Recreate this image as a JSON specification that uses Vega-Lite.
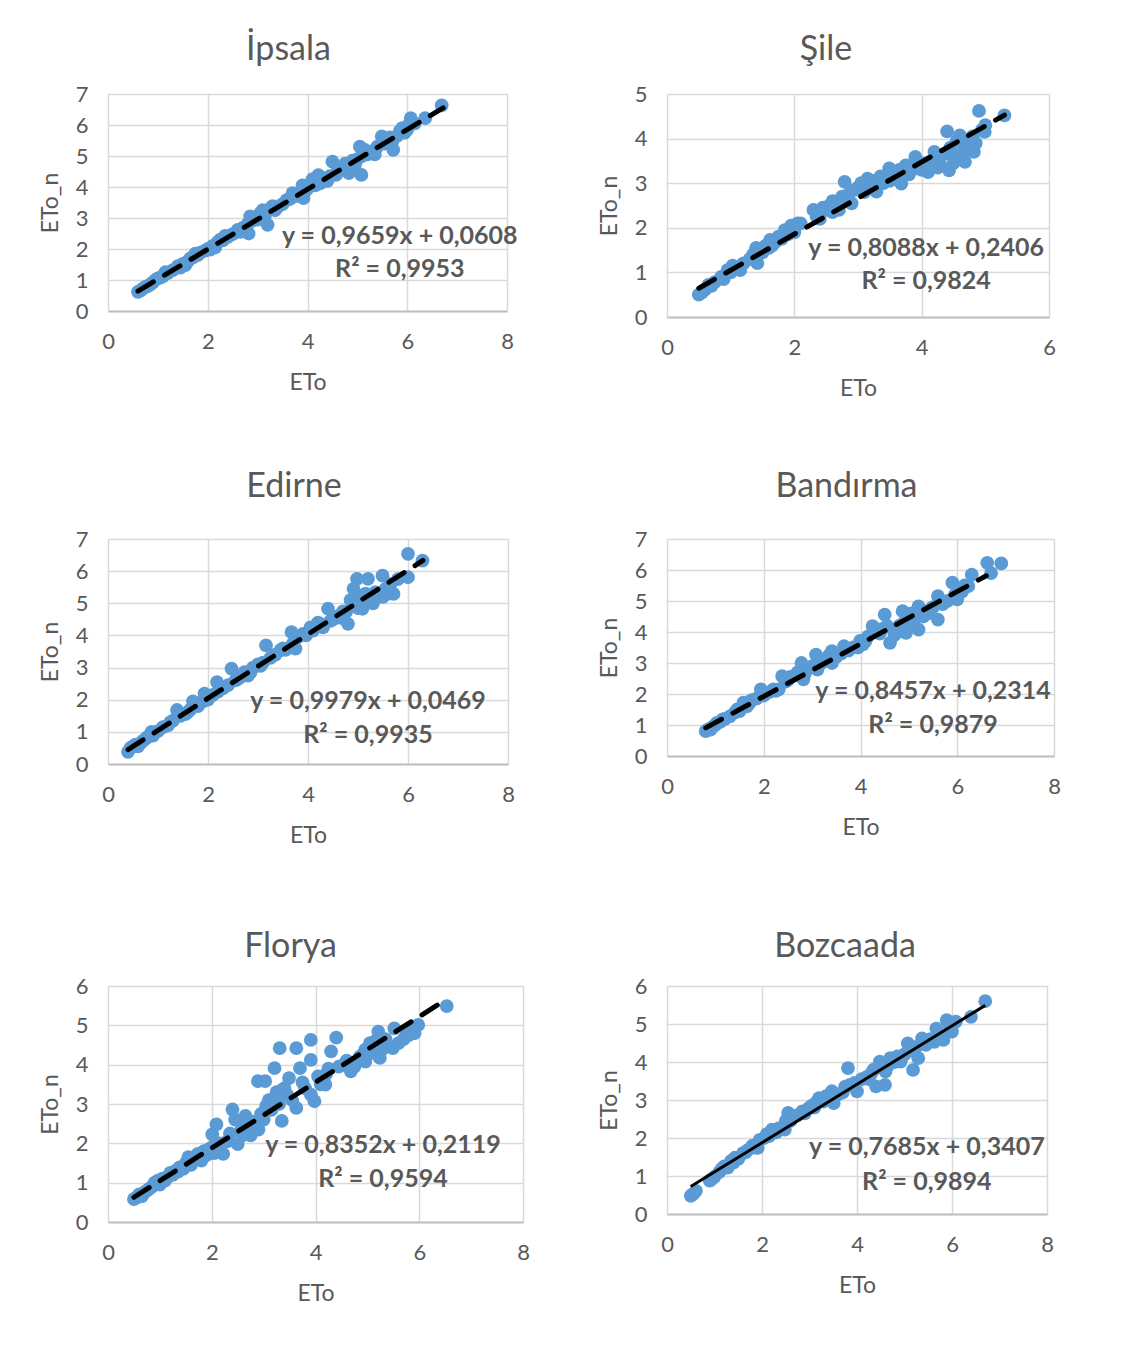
{
  "$schema": "https://vega.github.io/schema/vega-lite/v6.json",
  "background": "white",
  "padding": {"left": 39, "top": 33, "right": 5, "bottom": 5},
  "config": {
    "font": "Lato",
    "view": {"stroke": null},
    "axis": {"grid": true, "gridColor": "#D9D9D9", "gridWidth": 1.5, "ticks": false, "domain": false, "labelColor": "#595959", "labelFontSize": 22, "titleColor": "#595959", "titleFontSize": 23, "titleFontWeight": "normal", "labelFlush": false, "labelOverlap": false, "format": "d"},
    "axisX": {"domain": true, "domainColor": "#BFBFBF", "domainWidth": 2, "labelPadding": 20, "titlePadding": 19},
    "axisY": {"labelPadding": 20, "titlePadding": 13},
    "title": {"fontSize": 34, "fontWeight": "normal", "color": "#595959", "anchor": "middle"},
    "text": {"fontSize": 25, "fontWeight": "bold", "color": "#595959", "align": "center", "baseline": "middle"}
  },
  "datasets": {
    "ipsala": [
      {"ETo":0.60,"ETo_n":0.62},{"ETo":0.65,"ETo_n":0.66},{"ETo":0.70,"ETo_n":0.72},{"ETo":0.75,"ETo_n":0.78},{"ETo":0.80,"ETo_n":0.80},{"ETo":0.85,"ETo_n":0.86},{"ETo":0.90,"ETo_n":0.92},{"ETo":0.95,"ETo_n":1.00},{"ETo":1.00,"ETo_n":1.05},{"ETo":1.05,"ETo_n":1.08},{"ETo":1.10,"ETo_n":1.12},{"ETo":1.20,"ETo_n":1.22},{"ETo":1.30,"ETo_n":1.32},{"ETo":1.40,"ETo_n":1.45},{"ETo":1.45,"ETo_n":1.40},{"ETo":1.50,"ETo_n":1.52},{"ETo":1.60,"ETo_n":1.60},{"ETo":1.65,"ETo_n":1.70},{"ETo":1.70,"ETo_n":1.72},{"ETo":1.80,"ETo_n":1.80},{"ETo":1.85,"ETo_n":1.88},{"ETo":1.95,"ETo_n":1.95},{"ETo":2.00,"ETo_n":2.00},{"ETo":2.05,"ETo_n":1.98},{"ETo":2.10,"ETo_n":2.10},{"ETo":2.20,"ETo_n":2.22},{"ETo":2.25,"ETo_n":2.30},{"ETo":2.30,"ETo_n":2.28},{"ETo":2.40,"ETo_n":2.38},{"ETo":2.50,"ETo_n":2.48},{"ETo":2.60,"ETo_n":2.62},{"ETo":2.70,"ETo_n":2.68},{"ETo":2.80,"ETo_n":2.80},{"ETo":2.82,"ETo_n":2.50},{"ETo":2.85,"ETo_n":3.05},{"ETo":2.90,"ETo_n":2.92},{"ETo":2.95,"ETo_n":3.00},{"ETo":3.00,"ETo_n":2.95},{"ETo":3.10,"ETo_n":3.25},{"ETo":3.15,"ETo_n":3.10},{"ETo":3.20,"ETo_n":2.78},{"ETo":3.25,"ETo_n":3.30},{"ETo":3.30,"ETo_n":3.38},{"ETo":3.40,"ETo_n":3.35},{"ETo":3.50,"ETo_n":3.45},{"ETo":3.58,"ETo_n":3.58},{"ETo":3.65,"ETo_n":3.62},{"ETo":3.75,"ETo_n":3.70},{"ETo":3.85,"ETo_n":3.75},{"ETo":3.92,"ETo_n":3.64},{"ETo":3.90,"ETo_n":4.05},{"ETo":4.00,"ETo_n":3.95},{"ETo":4.05,"ETo_n":4.10},{"ETo":4.15,"ETo_n":4.05},{"ETo":4.22,"ETo_n":4.38},{"ETo":4.25,"ETo_n":4.12},{"ETo":4.35,"ETo_n":4.25},{"ETo":4.45,"ETo_n":4.35},{"ETo":4.50,"ETo_n":4.82},{"ETo":4.57,"ETo_n":4.39},{"ETo":4.60,"ETo_n":4.50},{"ETo":4.70,"ETo_n":4.55},{"ETo":4.79,"ETo_n":4.71},{"ETo":4.83,"ETo_n":4.45},{"ETo":4.90,"ETo_n":4.85},{"ETo":5.00,"ETo_n":4.90},{"ETo":5.05,"ETo_n":5.30},{"ETo":5.08,"ETo_n":4.39},{"ETo":5.10,"ETo_n":5.00},{"ETo":5.20,"ETo_n":5.05},{"ETo":5.30,"ETo_n":5.15},{"ETo":5.40,"ETo_n":5.30},{"ETo":5.49,"ETo_n":5.63},{"ETo":5.55,"ETo_n":5.40},{"ETo":5.60,"ETo_n":5.50},{"ETo":5.70,"ETo_n":5.47},{"ETo":5.72,"ETo_n":5.20},{"ETo":5.80,"ETo_n":5.65},{"ETo":5.85,"ETo_n":5.80},{"ETo":5.90,"ETo_n":5.90},{"ETo":5.95,"ETo_n":5.75},{"ETo":6.05,"ETo_n":6.05},{"ETo":6.07,"ETo_n":6.22},{"ETo":6.15,"ETo_n":6.05},{"ETo":6.36,"ETo_n":6.22},{"ETo":6.69,"ETo_n":6.63},
      {"ETo":1.15,"ETo_n":1.25},{"ETo":1.55,"ETo_n":1.48},{"ETo":1.75,"ETo_n":1.85},{"ETo":2.15,"ETo_n":2.05},{"ETo":2.35,"ETo_n":2.42},{"ETo":2.65,"ETo_n":2.55},{"ETo":3.05,"ETo_n":3.15},{"ETo":3.35,"ETo_n":3.25},{"ETo":3.70,"ETo_n":3.80},{"ETo":3.95,"ETo_n":3.85},{"ETo":4.10,"ETo_n":4.25},{"ETo":4.40,"ETo_n":4.20},{"ETo":4.75,"ETo_n":4.75},{"ETo":4.95,"ETo_n":4.70},{"ETo":5.15,"ETo_n":5.20},{"ETo":5.35,"ETo_n":5.05},{"ETo":5.65,"ETo_n":5.60},{"ETo":6.00,"ETo_n":5.85}
    ],
    "ipsala_fit": [{"ETo":0.60,"ETo_n":0.64},{"ETo":6.72,"ETo_n":6.55}],
    "ipsala_label": [{"eq":"y = 0,9659x + 0,0608","r2":"R² = 0,9953"}],
    "sile": [
      {"ETo":0.50,"ETo_n":0.50},{"ETo":0.55,"ETo_n":0.55},{"ETo":0.60,"ETo_n":0.62},{"ETo":0.70,"ETo_n":0.70},{"ETo":0.75,"ETo_n":0.78},{"ETo":0.85,"ETo_n":0.90},{"ETo":0.89,"ETo_n":0.85},{"ETo":0.95,"ETo_n":1.05},{"ETo":1.00,"ETo_n":1.00},{"ETo":1.03,"ETo_n":1.15},{"ETo":1.10,"ETo_n":1.10},{"ETo":1.20,"ETo_n":1.20},{"ETo":1.30,"ETo_n":1.30},{"ETo":1.35,"ETo_n":1.40},{"ETo":1.40,"ETo_n":1.55},{"ETo":1.42,"ETo_n":1.21},{"ETo":1.50,"ETo_n":1.45},{"ETo":1.55,"ETo_n":1.60},{"ETo":1.62,"ETo_n":1.73},{"ETo":1.65,"ETo_n":1.60},{"ETo":1.75,"ETo_n":1.80},{"ETo":1.80,"ETo_n":1.75},{"ETo":1.85,"ETo_n":1.95},{"ETo":1.90,"ETo_n":1.85},{"ETo":1.95,"ETo_n":2.05},{"ETo":2.00,"ETo_n":1.90},{"ETo":2.05,"ETo_n":2.10},{"ETo":2.10,"ETo_n":2.10},{"ETo":2.30,"ETo_n":2.40},{"ETo":2.35,"ETo_n":2.25},{"ETo":2.40,"ETo_n":2.20},{"ETo":2.45,"ETo_n":2.45},{"ETo":2.50,"ETo_n":2.40},{"ETo":2.55,"ETo_n":2.50},{"ETo":2.60,"ETo_n":2.60},{"ETo":2.65,"ETo_n":2.45},{"ETo":2.70,"ETo_n":2.40},{"ETo":2.75,"ETo_n":2.70},{"ETo":2.79,"ETo_n":3.03},{"ETo":2.85,"ETo_n":2.75},{"ETo":2.90,"ETo_n":2.55},{"ETo":2.95,"ETo_n":2.85},{"ETo":3.00,"ETo_n":2.90},{"ETo":3.05,"ETo_n":3.00},{"ETo":3.15,"ETo_n":3.10},{"ETo":3.20,"ETo_n":2.95},{"ETo":3.25,"ETo_n":3.05},{"ETo":3.29,"ETo_n":2.81},{"ETo":3.40,"ETo_n":3.00},{"ETo":3.49,"ETo_n":3.33},{"ETo":3.55,"ETo_n":3.20},{"ETo":3.60,"ETo_n":3.10},{"ETo":3.65,"ETo_n":3.30},{"ETo":3.68,"ETo_n":2.99},{"ETo":3.75,"ETo_n":3.40},{"ETo":3.85,"ETo_n":3.30},{"ETo":3.90,"ETo_n":3.59},{"ETo":3.95,"ETo_n":3.45},{"ETo":4.00,"ETo_n":3.30},{"ETo":4.10,"ETo_n":3.25},{"ETo":4.15,"ETo_n":3.50},{"ETo":4.20,"ETo_n":3.70},{"ETo":4.25,"ETo_n":3.55},{"ETo":4.30,"ETo_n":3.40},{"ETo":4.35,"ETo_n":3.65},{"ETo":4.40,"ETo_n":4.16},{"ETo":4.43,"ETo_n":3.29},{"ETo":4.45,"ETo_n":3.80},{"ETo":4.50,"ETo_n":3.60},{"ETo":4.55,"ETo_n":3.95},{"ETo":4.60,"ETo_n":4.07},{"ETo":4.65,"ETo_n":3.70},{"ETo":4.68,"ETo_n":3.48},{"ETo":4.75,"ETo_n":3.90},{"ETo":4.80,"ETo_n":4.05},{"ETo":4.82,"ETo_n":3.70},{"ETo":4.90,"ETo_n":4.62},{"ETo":4.95,"ETo_n":4.20},{"ETo":4.99,"ETo_n":4.15},{"ETo":5.30,"ETo_n":4.52},
      {"ETo":0.65,"ETo_n":0.72},{"ETo":1.15,"ETo_n":1.05},{"ETo":1.60,"ETo_n":1.55},{"ETo":1.70,"ETo_n":1.68},{"ETo":2.40,"ETo_n":2.35},{"ETo":2.60,"ETo_n":2.35},{"ETo":2.85,"ETo_n":2.60},{"ETo":3.10,"ETo_n":2.80},{"ETo":3.35,"ETo_n":3.15},{"ETo":3.50,"ETo_n":3.05},{"ETo":3.80,"ETo_n":3.20},{"ETo":4.05,"ETo_n":3.45},{"ETo":4.25,"ETo_n":3.35},{"ETo":4.50,"ETo_n":3.45},{"ETo":4.70,"ETo_n":3.80},{"ETo":4.85,"ETo_n":3.90},{"ETo":5.00,"ETo_n":4.30}
    ],
    "sile_fit": [{"ETo":0.50,"ETo_n":0.645},{"ETo":5.30,"ETo_n":4.527}],
    "sile_label": [{"eq":"y = 0,8088x + 0,2406","r2":"R² = 0,9824"}],
    "edirne": [
      {"ETo":0.40,"ETo_n":0.38},{"ETo":0.45,"ETo_n":0.50},{"ETo":0.50,"ETo_n":0.55},{"ETo":0.55,"ETo_n":0.60},{"ETo":0.60,"ETo_n":0.55},{"ETo":0.65,"ETo_n":0.65},{"ETo":0.70,"ETo_n":0.72},{"ETo":0.80,"ETo_n":0.85},{"ETo":0.87,"ETo_n":1.00},{"ETo":0.90,"ETo_n":0.88},{"ETo":1.00,"ETo_n":1.02},{"ETo":1.10,"ETo_n":1.15},{"ETo":1.20,"ETo_n":1.20},{"ETo":1.30,"ETo_n":1.35},{"ETo":1.38,"ETo_n":1.68},{"ETo":1.45,"ETo_n":1.50},{"ETo":1.55,"ETo_n":1.55},{"ETo":1.65,"ETo_n":1.70},{"ETo":1.70,"ETo_n":1.95},{"ETo":1.80,"ETo_n":1.80},{"ETo":1.90,"ETo_n":1.95},{"ETo":1.93,"ETo_n":2.19},{"ETo":2.00,"ETo_n":2.00},{"ETo":2.10,"ETo_n":2.15},{"ETo":2.18,"ETo_n":2.55},{"ETo":2.30,"ETo_n":2.35},{"ETo":2.40,"ETo_n":2.45},{"ETo":2.47,"ETo_n":2.97},{"ETo":2.55,"ETo_n":2.60},{"ETo":2.65,"ETo_n":2.70},{"ETo":2.73,"ETo_n":2.86},{"ETo":2.80,"ETo_n":2.75},{"ETo":2.90,"ETo_n":3.00},{"ETo":3.00,"ETo_n":3.10},{"ETo":3.10,"ETo_n":3.15},{"ETo":3.16,"ETo_n":3.69},{"ETo":3.25,"ETo_n":3.30},{"ETo":3.35,"ETo_n":3.40},{"ETo":3.45,"ETo_n":3.54},{"ETo":3.55,"ETo_n":3.55},{"ETo":3.67,"ETo_n":4.10},{"ETo":3.75,"ETo_n":3.59},{"ETo":3.80,"ETo_n":3.95},{"ETo":3.90,"ETo_n":4.05},{"ETo":3.96,"ETo_n":4.00},{"ETo":4.05,"ETo_n":4.25},{"ETo":4.15,"ETo_n":4.30},{"ETo":4.25,"ETo_n":4.35},{"ETo":4.30,"ETo_n":4.25},{"ETo":4.40,"ETo_n":4.83},{"ETo":4.50,"ETo_n":4.50},{"ETo":4.60,"ETo_n":4.60},{"ETo":4.70,"ETo_n":4.75},{"ETo":4.76,"ETo_n":4.73},{"ETo":4.80,"ETo_n":4.36},{"ETo":4.85,"ETo_n":5.10},{"ETo":4.91,"ETo_n":5.45},{"ETo":4.95,"ETo_n":5.20},{"ETo":4.98,"ETo_n":5.76},{"ETo":5.00,"ETo_n":4.85},{"ETo":5.05,"ETo_n":5.00},{"ETo":5.09,"ETo_n":4.83},{"ETo":5.15,"ETo_n":5.30},{"ETo":5.20,"ETo_n":5.76},{"ETo":5.25,"ETo_n":5.10},{"ETo":5.30,"ETo_n":5.00},{"ETo":5.40,"ETo_n":5.20},{"ETo":5.49,"ETo_n":5.86},{"ETo":5.55,"ETo_n":5.45},{"ETo":5.60,"ETo_n":5.30},{"ETo":5.65,"ETo_n":5.60},{"ETo":5.71,"ETo_n":5.29},{"ETo":5.80,"ETo_n":5.75},{"ETo":6.00,"ETo_n":5.81},{"ETo":6.00,"ETo_n":6.54},{"ETo":6.29,"ETo_n":6.33},
      {"ETo":0.75,"ETo_n":0.78},{"ETo":1.25,"ETo_n":1.30},{"ETo":1.60,"ETo_n":1.62},{"ETo":2.20,"ETo_n":2.25},{"ETo":2.60,"ETo_n":2.65},{"ETo":2.85,"ETo_n":2.85},{"ETo":3.05,"ETo_n":3.05},{"ETo":3.50,"ETo_n":3.60},{"ETo":3.70,"ETo_n":3.75},{"ETo":4.10,"ETo_n":4.15},{"ETo":4.20,"ETo_n":4.40},{"ETo":4.45,"ETo_n":4.45},{"ETo":4.65,"ETo_n":4.55},{"ETo":4.90,"ETo_n":4.95},{"ETo":5.10,"ETo_n":5.15},{"ETo":5.35,"ETo_n":5.35},{"ETo":5.50,"ETo_n":5.20}
    ],
    "edirne_fit": [{"ETo":0.40,"ETo_n":0.446},{"ETo":6.30,"ETo_n":6.334}],
    "edirne_label": [{"eq":"y = 0,9979x + 0,0469","r2":"R² = 0,9935"}],
    "bandirma": [
      {"ETo":0.80,"ETo_n":0.80},{"ETo":0.85,"ETo_n":0.86},{"ETo":0.90,"ETo_n":0.85},{"ETo":0.95,"ETo_n":0.95},{"ETo":1.00,"ETo_n":1.00},{"ETo":1.03,"ETo_n":1.07},{"ETo":1.10,"ETo_n":1.10},{"ETo":1.20,"ETo_n":1.20},{"ETo":1.30,"ETo_n":1.28},{"ETo":1.40,"ETo_n":1.40},{"ETo":1.50,"ETo_n":1.45},{"ETo":1.58,"ETo_n":1.72},{"ETo":1.65,"ETo_n":1.60},{"ETo":1.75,"ETo_n":1.80},{"ETo":1.85,"ETo_n":1.85},{"ETo":1.94,"ETo_n":2.15},{"ETo":2.00,"ETo_n":1.95},{"ETo":2.10,"ETo_n":2.05},{"ETo":2.20,"ETo_n":2.15},{"ETo":2.31,"ETo_n":2.15},{"ETo":2.38,"ETo_n":2.58},{"ETo":2.45,"ETo_n":2.40},{"ETo":2.55,"ETo_n":2.55},{"ETo":2.65,"ETo_n":2.60},{"ETo":2.70,"ETo_n":2.70},{"ETo":2.78,"ETo_n":3.00},{"ETo":2.82,"ETo_n":2.47},{"ETo":2.90,"ETo_n":2.80},{"ETo":3.00,"ETo_n":2.90},{"ETo":3.08,"ETo_n":3.27},{"ETo":3.11,"ETo_n":2.79},{"ETo":3.20,"ETo_n":3.00},{"ETo":3.30,"ETo_n":3.10},{"ETo":3.41,"ETo_n":3.38},{"ETo":3.41,"ETo_n":3.00},{"ETo":3.50,"ETo_n":3.20},{"ETo":3.60,"ETo_n":3.30},{"ETo":3.66,"ETo_n":3.54},{"ETo":3.75,"ETo_n":3.40},{"ETo":3.85,"ETo_n":3.50},{"ETo":3.99,"ETo_n":3.71},{"ETo":4.05,"ETo_n":3.60},{"ETo":4.15,"ETo_n":3.85},{"ETo":4.25,"ETo_n":4.19},{"ETo":4.35,"ETo_n":4.00},{"ETo":4.45,"ETo_n":4.10},{"ETo":4.50,"ETo_n":4.56},{"ETo":4.55,"ETo_n":4.20},{"ETo":4.61,"ETo_n":3.65},{"ETo":4.70,"ETo_n":3.90},{"ETo":4.80,"ETo_n":4.20},{"ETo":4.87,"ETo_n":4.67},{"ETo":4.94,"ETo_n":3.97},{"ETo":5.00,"ETo_n":4.40},{"ETo":5.05,"ETo_n":4.60},{"ETo":5.10,"ETo_n":4.30},{"ETo":5.20,"ETo_n":4.83},{"ETo":5.20,"ETo_n":4.08},{"ETo":5.30,"ETo_n":4.50},{"ETo":5.40,"ETo_n":4.60},{"ETo":5.50,"ETo_n":4.80},{"ETo":5.60,"ETo_n":5.16},{"ETo":5.60,"ETo_n":4.40},{"ETo":5.70,"ETo_n":4.90},{"ETo":5.80,"ETo_n":5.00},{"ETo":5.90,"ETo_n":5.59},{"ETo":6.00,"ETo_n":5.05},{"ETo":6.10,"ETo_n":5.30},{"ETo":6.23,"ETo_n":5.48},{"ETo":6.30,"ETo_n":5.85},{"ETo":6.62,"ETo_n":6.23},{"ETo":6.70,"ETo_n":5.90},{"ETo":6.91,"ETo_n":6.21},
      {"ETo":1.15,"ETo_n":1.18},{"ETo":1.45,"ETo_n":1.50},{"ETo":1.70,"ETo_n":1.70},{"ETo":2.25,"ETo_n":2.10},{"ETo":2.50,"ETo_n":2.45},{"ETo":2.85,"ETo_n":2.65},{"ETo":3.15,"ETo_n":3.10},{"ETo":3.35,"ETo_n":3.25},{"ETo":3.70,"ETo_n":3.45},{"ETo":3.95,"ETo_n":3.50},{"ETo":4.10,"ETo_n":3.70},{"ETo":4.40,"ETo_n":3.95},{"ETo":4.75,"ETo_n":4.00},{"ETo":4.90,"ETo_n":4.30},{"ETo":5.15,"ETo_n":4.55},{"ETo":5.45,"ETo_n":4.75},{"ETo":5.95,"ETo_n":5.20},{"ETo":6.15,"ETo_n":5.50}
    ],
    "bandirma_fit": [{"ETo":0.80,"ETo_n":0.908},{"ETo":6.60,"ETo_n":5.813}],
    "bandirma_label": [{"eq":"y = 0,8457x + 0,2314","r2":"R² = 0,9879"}],
    "florya": [
      {"ETo":0.50,"ETo_n":0.58},{"ETo":0.55,"ETo_n":0.62},{"ETo":0.60,"ETo_n":0.70},{"ETo":0.65,"ETo_n":0.65},{"ETo":0.70,"ETo_n":0.75},{"ETo":0.75,"ETo_n":0.80},{"ETo":0.85,"ETo_n":0.90},{"ETo":0.90,"ETo_n":1.00},{"ETo":0.96,"ETo_n":1.05},{"ETo":1.00,"ETo_n":0.95},{"ETo":1.05,"ETo_n":1.10},{"ETo":1.15,"ETo_n":1.15},{"ETo":1.25,"ETo_n":1.20},{"ETo":1.30,"ETo_n":1.30},{"ETo":1.38,"ETo_n":1.39},{"ETo":1.45,"ETo_n":1.35},{"ETo":1.50,"ETo_n":1.50},{"ETo":1.55,"ETo_n":1.65},{"ETo":1.60,"ETo_n":1.45},{"ETo":1.65,"ETo_n":1.60},{"ETo":1.73,"ETo_n":1.73},{"ETo":1.80,"ETo_n":1.56},{"ETo":1.85,"ETo_n":1.80},{"ETo":1.90,"ETo_n":1.70},{"ETo":2.00,"ETo_n":1.90},{"ETo":2.01,"ETo_n":2.23},{"ETo":2.05,"ETo_n":1.75},{"ETo":2.09,"ETo_n":2.48},{"ETo":2.15,"ETo_n":2.00},{"ETo":2.22,"ETo_n":1.73},{"ETo":2.30,"ETo_n":2.05},{"ETo":2.40,"ETo_n":2.86},{"ETo":2.45,"ETo_n":2.60},{"ETo":2.50,"ETo_n":1.98},{"ETo":2.55,"ETo_n":2.30},{"ETo":2.60,"ETo_n":2.45},{"ETo":2.65,"ETo_n":2.70},{"ETo":2.70,"ETo_n":2.40},{"ETo":2.75,"ETo_n":2.20},{"ETo":2.80,"ETo_n":2.55},{"ETo":2.89,"ETo_n":3.58},{"ETo":2.90,"ETo_n":2.35},{"ETo":2.95,"ETo_n":2.75},{"ETo":3.00,"ETo_n":2.60},{"ETo":3.03,"ETo_n":3.58},{"ETo":3.05,"ETo_n":2.95},{"ETo":3.10,"ETo_n":3.10},{"ETo":3.15,"ETo_n":2.85},{"ETo":3.21,"ETo_n":3.91},{"ETo":3.25,"ETo_n":3.30},{"ETo":3.30,"ETo_n":3.00},{"ETo":3.31,"ETo_n":4.42},{"ETo":3.35,"ETo_n":2.57},{"ETo":3.40,"ETo_n":3.40},{"ETo":3.45,"ETo_n":3.24},{"ETo":3.49,"ETo_n":3.66},{"ETo":3.55,"ETo_n":3.10},{"ETo":3.63,"ETo_n":4.42},{"ETo":3.63,"ETo_n":2.90},{"ETo":3.70,"ETo_n":3.91},{"ETo":3.75,"ETo_n":3.55},{"ETo":3.80,"ETo_n":3.40},{"ETo":3.91,"ETo_n":4.63},{"ETo":3.91,"ETo_n":4.12},{"ETo":3.91,"ETo_n":3.24},{"ETo":3.98,"ETo_n":3.07},{"ETo":4.05,"ETo_n":3.70},{"ETo":4.10,"ETo_n":3.50},{"ETo":4.19,"ETo_n":3.49},{"ETo":4.25,"ETo_n":3.90},{"ETo":4.30,"ETo_n":4.34},{"ETo":4.40,"ETo_n":4.69},{"ETo":4.45,"ETo_n":3.95},{"ETo":4.55,"ETo_n":4.00},{"ETo":4.68,"ETo_n":3.83},{"ETo":4.75,"ETo_n":3.95},{"ETo":4.85,"ETo_n":4.20},{"ETo":4.96,"ETo_n":4.38},{"ETo":4.96,"ETo_n":4.08},{"ETo":5.05,"ETo_n":4.55},{"ETo":5.10,"ETo_n":4.30},{"ETo":5.21,"ETo_n":4.84},{"ETo":5.24,"ETo_n":4.17},{"ETo":5.30,"ETo_n":4.40},{"ETo":5.40,"ETo_n":4.50},{"ETo":5.49,"ETo_n":4.42},{"ETo":5.52,"ETo_n":4.92},{"ETo":5.60,"ETo_n":4.55},{"ETo":5.70,"ETo_n":4.65},{"ETo":5.80,"ETo_n":4.75},{"ETo":5.91,"ETo_n":4.80},{"ETo":5.98,"ETo_n":5.01},{"ETo":6.53,"ETo_n":5.49},
      {"ETo":0.80,"ETo_n":0.85},{"ETo":1.10,"ETo_n":1.05},{"ETo":1.20,"ETo_n":1.25},{"ETo":1.35,"ETo_n":1.28},{"ETo":1.70,"ETo_n":1.60},{"ETo":1.95,"ETo_n":1.85},{"ETo":2.10,"ETo_n":1.95},{"ETo":2.35,"ETo_n":2.25},{"ETo":2.60,"ETo_n":2.20},{"ETo":2.85,"ETo_n":2.40},{"ETo":3.20,"ETo_n":3.10},{"ETo":3.35,"ETo_n":3.35},{"ETo":4.20,"ETo_n":3.75},{"ETo":4.60,"ETo_n":4.10},{"ETo":4.90,"ETo_n":4.25},{"ETo":5.15,"ETo_n":4.60},{"ETo":5.35,"ETo_n":4.65},{"ETo":5.75,"ETo_n":4.85},{"ETo":5.85,"ETo_n":4.95}
    ],
    "florya_fit": [{"ETo":0.50,"ETo_n":0.629},{"ETo":6.50,"ETo_n":5.64}],
    "florya_label": [{"eq":"y = 0,8352x + 0,2119","r2":"R² = 0,9594"}],
    "bozcaada": [
      {"ETo":0.50,"ETo_n":0.48},{"ETo":0.55,"ETo_n":0.52},{"ETo":0.61,"ETo_n":0.61},{"ETo":0.90,"ETo_n":0.88},{"ETo":0.94,"ETo_n":0.92},{"ETo":1.00,"ETo_n":0.98},{"ETo":1.10,"ETo_n":1.10},{"ETo":1.20,"ETo_n":1.25},{"ETo":1.28,"ETo_n":1.22},{"ETo":1.35,"ETo_n":1.40},{"ETo":1.43,"ETo_n":1.48},{"ETo":1.50,"ETo_n":1.45},{"ETo":1.60,"ETo_n":1.60},{"ETo":1.70,"ETo_n":1.68},{"ETo":1.80,"ETo_n":1.80},{"ETo":1.91,"ETo_n":1.74},{"ETo":1.95,"ETo_n":1.95},{"ETo":2.05,"ETo_n":2.00},{"ETo":2.15,"ETo_n":2.05},{"ETo":2.21,"ETo_n":2.22},{"ETo":2.25,"ETo_n":2.15},{"ETo":2.35,"ETo_n":2.25},{"ETo":2.48,"ETo_n":2.22},{"ETo":2.50,"ETo_n":2.45},{"ETo":2.55,"ETo_n":2.66},{"ETo":2.65,"ETo_n":2.55},{"ETo":2.75,"ETo_n":2.60},{"ETo":2.85,"ETo_n":2.70},{"ETo":2.99,"ETo_n":2.79},{"ETo":3.05,"ETo_n":2.85},{"ETo":3.15,"ETo_n":2.95},{"ETo":3.20,"ETo_n":3.05},{"ETo":3.29,"ETo_n":2.96},{"ETo":3.35,"ETo_n":3.10},{"ETo":3.40,"ETo_n":3.05},{"ETo":3.47,"ETo_n":3.23},{"ETo":3.51,"ETo_n":2.92},{"ETo":3.60,"ETo_n":3.15},{"ETo":3.70,"ETo_n":3.20},{"ETo":3.81,"ETo_n":3.84},{"ETo":3.85,"ETo_n":3.40},{"ETo":3.95,"ETo_n":3.45},{"ETo":4.00,"ETo_n":3.23},{"ETo":4.10,"ETo_n":3.55},{"ETo":4.20,"ETo_n":3.60},{"ETo":4.30,"ETo_n":3.70},{"ETo":4.35,"ETo_n":3.80},{"ETo":4.40,"ETo_n":3.36},{"ETo":4.48,"ETo_n":4.01},{"ETo":4.55,"ETo_n":3.85},{"ETo":4.59,"ETo_n":3.40},{"ETo":4.65,"ETo_n":3.90},{"ETo":4.70,"ETo_n":4.10},{"ETo":4.80,"ETo_n":4.00},{"ETo":4.92,"ETo_n":4.01},{"ETo":5.00,"ETo_n":4.20},{"ETo":5.07,"ETo_n":4.49},{"ETo":5.15,"ETo_n":4.30},{"ETo":5.18,"ETo_n":3.79},{"ETo":5.25,"ETo_n":4.40},{"ETo":5.29,"ETo_n":4.10},{"ETo":5.37,"ETo_n":4.62},{"ETo":5.45,"ETo_n":4.45},{"ETo":5.55,"ETo_n":4.60},{"ETo":5.63,"ETo_n":4.53},{"ETo":5.67,"ETo_n":4.88},{"ETo":5.75,"ETo_n":4.70},{"ETo":5.82,"ETo_n":4.58},{"ETo":5.89,"ETo_n":5.10},{"ETo":6.00,"ETo_n":4.80},{"ETo":6.08,"ETo_n":5.06},{"ETo":6.40,"ETo_n":5.19},{"ETo":6.70,"ETo_n":5.60},
      {"ETo":1.15,"ETo_n":1.18},{"ETo":1.40,"ETo_n":1.35},{"ETo":1.65,"ETo_n":1.62},{"ETo":1.85,"ETo_n":1.75},{"ETo":2.10,"ETo_n":2.10},{"ETo":2.30,"ETo_n":2.15},{"ETo":2.60,"ETo_n":2.45},{"ETo":2.90,"ETo_n":2.65},{"ETo":3.10,"ETo_n":2.80},{"ETo":3.45,"ETo_n":3.00},{"ETo":3.75,"ETo_n":3.35},{"ETo":4.25,"ETo_n":3.55},{"ETo":4.60,"ETo_n":3.75},{"ETo":4.85,"ETo_n":4.15},{"ETo":5.10,"ETo_n":4.30},{"ETo":5.50,"ETo_n":4.55},{"ETo":5.70,"ETo_n":4.65},{"ETo":5.95,"ETo_n":4.95}
    ],
    "bozcaada_fit": [{"ETo":0.50,"ETo_n":0.725},{"ETo":6.70,"ETo_n":5.49}],
    "bozcaada_label": [{"eq":"y = 0,7685x + 0,3407","r2":"R² = 0,9894"}]
  },
  "columns": 2,
  "align": "each",
  "bounds": "flush",
  "spacing": {"column": 144, "row": 222},
  "concat": [
    {
      "width": 399, "height": 217,
      "title": {"text": "İpsala", "dx": -19, "offset": 16},
      "layer": [
        {"data": {"name": "ipsala"}, "mark": {"type": "circle", "size": 190, "color": "#5B9BD5", "opacity": 1},
         "encoding": {"x": {"field": "ETo", "type": "quantitative", "title": "ETo", "scale": {"domain": [0, 8], "nice": false}, "axis": {"values": [0, 2, 4, 6, 8], "labelOverlap": false}},
                      "y": {"field": "ETo_n", "type": "quantitative", "title": "ETo_n", "scale": {"domain": [0, 7], "nice": false}, "axis": {"values": [0, 1, 2, 3, 4, 5, 6, 7], "labelOverlap": false}}}},
        {"data": {"name": "ipsala_fit"}, "mark": {"type": "line", "color": "black", "strokeWidth": 5, "strokeDash": [18, 13], "strokeCap": "round"},
         "encoding": {"x": {"field": "ETo", "type": "quantitative", "title": "ETo", "axis": {"values": [0, 2, 4, 6, 8], "labelOverlap": false}},
                      "y": {"field": "ETo_n", "type": "quantitative", "title": "ETo_n", "axis": {"values": [0, 1, 2, 3, 4, 5, 6, 7], "labelOverlap": false}}}},
        {"data": {"name": "ipsala_label"}, "mark": "text",
         "encoding": {"x": {"datum": 5.85, "type": "quantitative", "title": "ETo", "axis": {"values": [0, 2, 4, 6, 8], "labelOverlap": false}},
                      "y": {"datum": 2.42, "type": "quantitative", "title": "ETo_n", "axis": {"values": [0, 1, 2, 3, 4, 5, 6, 7], "labelOverlap": false}}, "text": {"field": "eq"}}},
        {"data": {"name": "ipsala_label"}, "mark": "text",
         "encoding": {"x": {"datum": 5.85, "type": "quantitative", "title": "ETo", "axis": {"values": [0, 2, 4, 6, 8], "labelOverlap": false}},
                      "y": {"datum": 1.35, "type": "quantitative", "title": "ETo_n", "axis": {"values": [0, 1, 2, 3, 4, 5, 6, 7], "labelOverlap": false}}, "text": {"field": "r2"}}}
      ]
    },
    {
      "width": 382, "height": 223,
      "title": {"text": "Şile", "dx": -32, "offset": 16},
      "layer": [
        {"data": {"name": "sile"}, "mark": {"type": "circle", "size": 190, "color": "#5B9BD5", "opacity": 1},
         "encoding": {"x": {"field": "ETo", "type": "quantitative", "title": "ETo", "scale": {"domain": [0, 6], "nice": false}, "axis": {"values": [0, 2, 4, 6], "labelOverlap": false}},
                      "y": {"field": "ETo_n", "type": "quantitative", "title": "ETo_n", "scale": {"domain": [0, 5], "nice": false}, "axis": {"values": [0, 1, 2, 3, 4, 5], "labelOverlap": false}}}},
        {"data": {"name": "sile_fit"}, "mark": {"type": "line", "color": "black", "strokeWidth": 5, "strokeDash": [18, 13], "strokeCap": "round"},
         "encoding": {"x": {"field": "ETo", "type": "quantitative", "title": "ETo", "axis": {"values": [0, 2, 4, 6], "labelOverlap": false}},
                      "y": {"field": "ETo_n", "type": "quantitative", "title": "ETo_n", "axis": {"values": [0, 1, 2, 3, 4, 5], "labelOverlap": false}}}},
        {"data": {"name": "sile_label"}, "mark": "text",
         "encoding": {"x": {"datum": 4.07, "type": "quantitative", "title": "ETo", "axis": {"values": [0, 2, 4, 6], "labelOverlap": false}},
                      "y": {"datum": 1.55, "type": "quantitative", "title": "ETo_n", "axis": {"values": [0, 1, 2, 3, 4, 5], "labelOverlap": false}}, "text": {"field": "eq"}}},
        {"data": {"name": "sile_label"}, "mark": "text",
         "encoding": {"x": {"datum": 4.07, "type": "quantitative", "title": "ETo", "axis": {"values": [0, 2, 4, 6], "labelOverlap": false}},
                      "y": {"datum": 0.81, "type": "quantitative", "title": "ETo_n", "axis": {"values": [0, 1, 2, 3, 4, 5], "labelOverlap": false}}, "text": {"field": "r2"}}}
      ]
    },
    {
      "width": 400, "height": 225,
      "title": {"text": "Edirne", "dx": -14, "offset": 24},
      "layer": [
        {"data": {"name": "edirne"}, "mark": {"type": "circle", "size": 190, "color": "#5B9BD5", "opacity": 1},
         "encoding": {"x": {"field": "ETo", "type": "quantitative", "title": "ETo", "scale": {"domain": [0, 8], "nice": false}, "axis": {"values": [0, 2, 4, 6, 8], "labelOverlap": false}},
                      "y": {"field": "ETo_n", "type": "quantitative", "title": "ETo_n", "scale": {"domain": [0, 7], "nice": false}, "axis": {"values": [0, 1, 2, 3, 4, 5, 6, 7], "labelOverlap": false}}}},
        {"data": {"name": "edirne_fit"}, "mark": {"type": "line", "color": "black", "strokeWidth": 5, "strokeDash": [18, 13], "strokeCap": "round"},
         "encoding": {"x": {"field": "ETo", "type": "quantitative", "title": "ETo", "axis": {"values": [0, 2, 4, 6, 8], "labelOverlap": false}},
                      "y": {"field": "ETo_n", "type": "quantitative", "title": "ETo_n", "axis": {"values": [0, 1, 2, 3, 4, 5, 6, 7], "labelOverlap": false}}}},
        {"data": {"name": "edirne_label"}, "mark": "text",
         "encoding": {"x": {"datum": 5.2, "type": "quantitative", "title": "ETo", "axis": {"values": [0, 2, 4, 6, 8], "labelOverlap": false}},
                      "y": {"datum": 1.96, "type": "quantitative", "title": "ETo_n", "axis": {"values": [0, 1, 2, 3, 4, 5, 6, 7], "labelOverlap": false}}, "text": {"field": "eq"}}},
        {"data": {"name": "edirne_label"}, "mark": "text",
         "encoding": {"x": {"datum": 5.2, "type": "quantitative", "title": "ETo", "axis": {"values": [0, 2, 4, 6, 8], "labelOverlap": false}},
                      "y": {"datum": 0.9, "type": "quantitative", "title": "ETo_n", "axis": {"values": [0, 1, 2, 3, 4, 5, 6, 7], "labelOverlap": false}}, "text": {"field": "r2"}}}
      ]
    },
    {
      "width": 387, "height": 217,
      "title": {"text": "Bandırma", "dx": -14, "offset": 24},
      "layer": [
        {"data": {"name": "bandirma"}, "mark": {"type": "circle", "size": 190, "color": "#5B9BD5", "opacity": 1},
         "encoding": {"x": {"field": "ETo", "type": "quantitative", "title": "ETo", "scale": {"domain": [0, 8], "nice": false}, "axis": {"values": [0, 2, 4, 6, 8], "labelOverlap": false}},
                      "y": {"field": "ETo_n", "type": "quantitative", "title": "ETo_n", "scale": {"domain": [0, 7], "nice": false}, "axis": {"values": [0, 1, 2, 3, 4, 5, 6, 7], "labelOverlap": false}}}},
        {"data": {"name": "bandirma_fit"}, "mark": {"type": "line", "color": "black", "strokeWidth": 5, "strokeDash": [18, 13], "strokeCap": "round"},
         "encoding": {"x": {"field": "ETo", "type": "quantitative", "title": "ETo", "axis": {"values": [0, 2, 4, 6, 8], "labelOverlap": false}},
                      "y": {"field": "ETo_n", "type": "quantitative", "title": "ETo_n", "axis": {"values": [0, 1, 2, 3, 4, 5, 6, 7], "labelOverlap": false}}}},
        {"data": {"name": "bandirma_label"}, "mark": "text",
         "encoding": {"x": {"datum": 5.5, "type": "quantitative", "title": "ETo", "axis": {"values": [0, 2, 4, 6, 8], "labelOverlap": false}},
                      "y": {"datum": 2.1, "type": "quantitative", "title": "ETo_n", "axis": {"values": [0, 1, 2, 3, 4, 5, 6, 7], "labelOverlap": false}}, "text": {"field": "eq"}}},
        {"data": {"name": "bandirma_label"}, "mark": "text",
         "encoding": {"x": {"datum": 5.5, "type": "quantitative", "title": "ETo", "axis": {"values": [0, 2, 4, 6, 8], "labelOverlap": false}},
                      "y": {"datum": 1.0, "type": "quantitative", "title": "ETo_n", "axis": {"values": [0, 1, 2, 3, 4, 5, 6, 7], "labelOverlap": false}}, "text": {"field": "r2"}}}
      ]
    },
    {
      "width": 415, "height": 236,
      "title": {"text": "Florya", "dx": -25, "offset": 11},
      "layer": [
        {"data": {"name": "florya"}, "mark": {"type": "circle", "size": 190, "color": "#5B9BD5", "opacity": 1},
         "encoding": {"x": {"field": "ETo", "type": "quantitative", "title": "ETo", "scale": {"domain": [0, 8], "nice": false}, "axis": {"values": [0, 2, 4, 6, 8], "labelOverlap": false}},
                      "y": {"field": "ETo_n", "type": "quantitative", "title": "ETo_n", "scale": {"domain": [0, 6], "nice": false}, "axis": {"values": [0, 1, 2, 3, 4, 5, 6], "labelOverlap": false}}}},
        {"data": {"name": "florya_fit"}, "mark": {"type": "line", "color": "black", "strokeWidth": 5, "strokeDash": [18, 13], "strokeCap": "round"},
         "encoding": {"x": {"field": "ETo", "type": "quantitative", "title": "ETo", "axis": {"values": [0, 2, 4, 6, 8], "labelOverlap": false}},
                      "y": {"field": "ETo_n", "type": "quantitative", "title": "ETo_n", "axis": {"values": [0, 1, 2, 3, 4, 5, 6], "labelOverlap": false}}}},
        {"data": {"name": "florya_label"}, "mark": "text",
         "encoding": {"x": {"datum": 5.3, "type": "quantitative", "title": "ETo", "axis": {"values": [0, 2, 4, 6, 8], "labelOverlap": false}},
                      "y": {"datum": 1.96, "type": "quantitative", "title": "ETo_n", "axis": {"values": [0, 1, 2, 3, 4, 5, 6], "labelOverlap": false}}, "text": {"field": "eq"}}},
        {"data": {"name": "florya_label"}, "mark": "text",
         "encoding": {"x": {"datum": 5.3, "type": "quantitative", "title": "ETo", "axis": {"values": [0, 2, 4, 6, 8], "labelOverlap": false}},
                      "y": {"datum": 1.09, "type": "quantitative", "title": "ETo_n", "axis": {"values": [0, 1, 2, 3, 4, 5, 6], "labelOverlap": false}}, "text": {"field": "r2"}}}
      ]
    },
    {
      "width": 380, "height": 228,
      "title": {"text": "Bozcaada", "dx": -12, "offset": 11},
      "layer": [
        {"data": {"name": "bozcaada"}, "mark": {"type": "circle", "size": 190, "color": "#5B9BD5", "opacity": 1},
         "encoding": {"x": {"field": "ETo", "type": "quantitative", "title": "ETo", "scale": {"domain": [0, 8], "nice": false}, "axis": {"values": [0, 2, 4, 6, 8], "labelOverlap": false}},
                      "y": {"field": "ETo_n", "type": "quantitative", "title": "ETo_n", "scale": {"domain": [0, 6], "nice": false}, "axis": {"values": [0, 1, 2, 3, 4, 5, 6], "labelOverlap": false}}}},
        {"data": {"name": "bozcaada_fit"}, "mark": {"type": "line", "color": "black", "strokeWidth": 3},
         "encoding": {"x": {"field": "ETo", "type": "quantitative", "title": "ETo", "axis": {"values": [0, 2, 4, 6, 8], "labelOverlap": false}},
                      "y": {"field": "ETo_n", "type": "quantitative", "title": "ETo_n", "axis": {"values": [0, 1, 2, 3, 4, 5, 6], "labelOverlap": false}}}},
        {"data": {"name": "bozcaada_label"}, "mark": "text",
         "encoding": {"x": {"datum": 5.47, "type": "quantitative", "title": "ETo", "axis": {"values": [0, 2, 4, 6, 8], "labelOverlap": false}},
                      "y": {"datum": 1.76, "type": "quantitative", "title": "ETo_n", "axis": {"values": [0, 1, 2, 3, 4, 5, 6], "labelOverlap": false}}, "text": {"field": "eq"}}},
        {"data": {"name": "bozcaada_label"}, "mark": "text",
         "encoding": {"x": {"datum": 5.47, "type": "quantitative", "title": "ETo", "axis": {"values": [0, 2, 4, 6, 8], "labelOverlap": false}},
                      "y": {"datum": 0.84, "type": "quantitative", "title": "ETo_n", "axis": {"values": [0, 1, 2, 3, 4, 5, 6], "labelOverlap": false}}, "text": {"field": "r2"}}}
      ]
    }
  ]
}
